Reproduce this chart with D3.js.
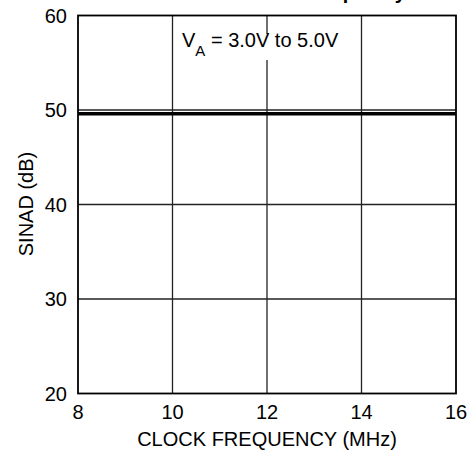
<!DOCTYPE html>
<html>
<head>
<meta charset="utf-8">
<script src="https://cdn.jsdelivr.net/npm/d3@7"></script>
<style>
  body { margin: 0; background: #fff; }
  svg { display: block; font-family: "Liberation Sans", Arial, sans-serif; }
</style>
</head>
<body>
<svg id="chart"></svg>
<script>
var width = 471, height = 460;
var svg = d3.select("#chart").attr("width", width).attr("height", height);

// data
var clockFreq = [8, 10, 12, 14, 16];
var sinad3V = [49.67, 49.67, 49.67, 49.67, 49.67];
var sinad5V = [49.52, 49.52, 49.52, 49.52, 49.52];
var xTicks = [8, 10, 12, 14, 16];
var yTicks = [20, 30, 40, 50, 60];

var x = d3.scaleLinear().domain([8, 16]).range([78, 456]);
var y = d3.scaleLinear().domain([20, 60]).range([393.5, 15.5]);

// title, mostly above the visible area
svg.append("text")
    .attr("x", 406).attr("y", -1)
    .attr("text-anchor", "end")
    .attr("font-size", 20).attr("font-weight", "bold")
    .text("SINAD vs. Clock Frequency");

// grid
svg.append("g").selectAll("line")
    .data(xTicks.slice(1, -1))
    .enter().append("line")
    .attr("x1", d => x(d)).attr("x2", d => x(d))
    .attr("y1", y(60)).attr("y2", y(20))
    .attr("stroke", "#222").attr("stroke-width", 1.3);
svg.append("g").selectAll("line")
    .data(yTicks.slice(1, -1))
    .enter().append("line")
    .attr("x1", x(8)).attr("x2", x(16))
    .attr("y1", d => y(d)).attr("y2", d => y(d))
    .attr("stroke", "#222").attr("stroke-width", 1.3);

// annotation box
svg.append("rect")
    .attr("x", 176).attr("y", 34).attr("width", 182).attr("height", 26)
    .attr("fill", "#fff");
var ann = svg.append("text")
    .attr("x", 182).attr("y", 47)
    .attr("font-size", 20);
ann.append("tspan").text("V");
ann.append("tspan").attr("font-size", 15).attr("dy", 9).text("A");
ann.append("tspan").attr("dy", -9).text(" = 3.0V to 5.0V");

// curves
var line = d3.line().x((d, i) => x(clockFreq[i])).y(d => y(d));
[sinad3V, sinad5V].forEach(function (s) {
    svg.append("path")
        .datum(s)
        .attr("d", line)
        .attr("fill", "none")
        .attr("stroke", "#000")
        .attr("stroke-width", 2);
});

// frame
svg.append("rect")
    .attr("x", x(8)).attr("y", y(60))
    .attr("width", x(16) - x(8)).attr("height", y(20) - y(60))
    .attr("fill", "none").attr("stroke", "#000").attr("stroke-width", 1.8);

// tick labels
svg.append("g").selectAll("text")
    .data(xTicks)
    .enter().append("text")
    .attr("x", d => x(d)).attr("y", 419)
    .attr("text-anchor", "middle")
    .attr("font-size", 20)
    .text(d => d);
svg.append("g").selectAll("text")
    .data(yTicks)
    .enter().append("text")
    .attr("x", 67).attr("y", d => y(d) + 7)
    .attr("text-anchor", "end")
    .attr("font-size", 20)
    .text(d => d);

// axis titles
svg.append("text")
    .attr("x", 267).attr("y", 446)
    .attr("text-anchor", "middle")
    .attr("font-size", 20)
    .text("CLOCK FREQUENCY (MHz)");
svg.append("text")
    .attr("transform", "translate(33,204) rotate(-90)")
    .attr("text-anchor", "middle")
    .attr("font-size", 20)
    .text("SINAD (dB)");
</script>
</body>
</html>
